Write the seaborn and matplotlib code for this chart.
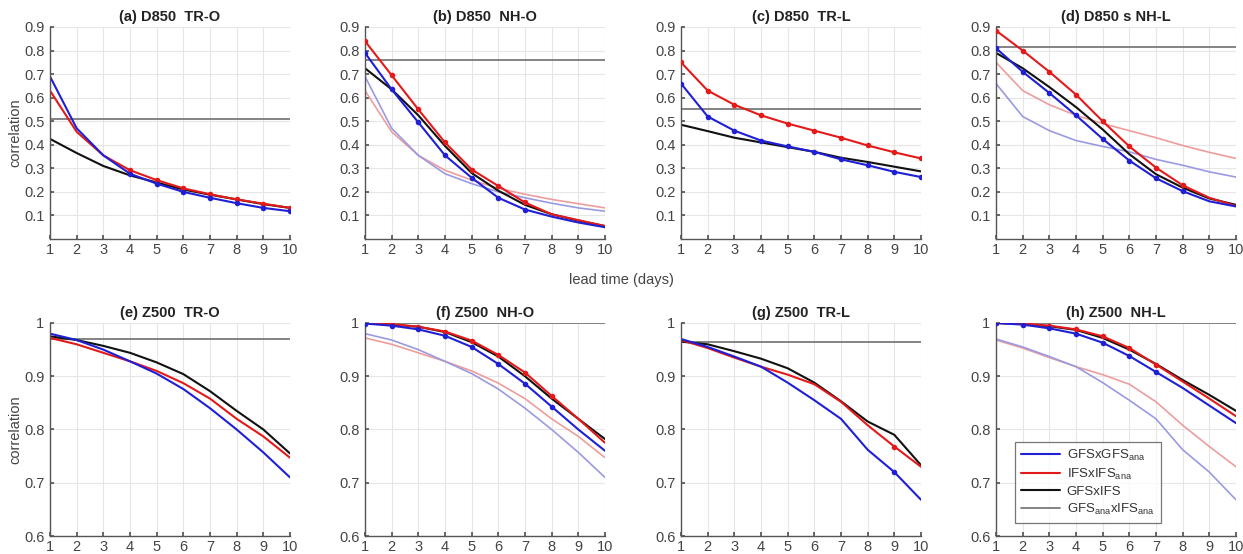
import numpy as np
import pandas as pd
import matplotlib
matplotlib.use("Agg")
import matplotlib.pyplot as plt
import seaborn as sns

sns.set_theme(style="white")
plt.rcParams['font.family'] = ['Liberation Sans', 'DejaVu Sans']

days = [1, 2, 3, 4, 5, 6, 7, 8, 9, 10]

# D850
a_gfs = [0.69, 0.47, 0.355, 0.277, 0.235, 0.20, 0.175, 0.152, 0.132, 0.118]
a_ifs = [0.63, 0.455, 0.355, 0.292, 0.25, 0.215, 0.19, 0.168, 0.15, 0.132]
a_cross = [0.425, 0.365, 0.31, 0.27, 0.24, 0.21, 0.188, 0.168, 0.148, 0.132]
a_ana = 0.51

b_gfs = [0.79, 0.635, 0.495, 0.355, 0.26, 0.175, 0.125, 0.095, 0.07, 0.05]
b_ifs = [0.84, 0.695, 0.55, 0.41, 0.295, 0.225, 0.155, 0.105, 0.08, 0.055]
b_cross = [0.725, 0.635, 0.525, 0.395, 0.28, 0.205, 0.145, 0.105, 0.078, 0.055]
b_ana = 0.76

c_gfs = [0.66, 0.52, 0.46, 0.418, 0.393, 0.37, 0.338, 0.313, 0.285, 0.263]
c_ifs = [0.75, 0.63, 0.57, 0.525, 0.49, 0.46, 0.43, 0.397, 0.368, 0.342]
c_cross = [0.485, 0.458, 0.43, 0.41, 0.39, 0.37, 0.345, 0.327, 0.307, 0.287]
c_ana = 0.55

d_gfs = [0.81, 0.71, 0.62, 0.525, 0.425, 0.333, 0.258, 0.203, 0.16, 0.138]
d_ifs = [0.885, 0.80, 0.71, 0.613, 0.50, 0.393, 0.303, 0.228, 0.175, 0.14]
d_cross = [0.79, 0.725, 0.645, 0.56, 0.465, 0.36, 0.275, 0.218, 0.172, 0.145]
d_ana = 0.815

# Z500
e_gfs = [0.98, 0.968, 0.95, 0.928, 0.905, 0.876, 0.84, 0.80, 0.757, 0.71]
e_ifs = [0.972, 0.96, 0.944, 0.928, 0.91, 0.887, 0.858, 0.82, 0.787, 0.747]
e_cross = [0.975, 0.968, 0.957, 0.944, 0.926, 0.904, 0.872, 0.835, 0.80, 0.755]
e_ana = 0.97

f_gfs = [0.999, 0.995, 0.988, 0.976, 0.955, 0.923, 0.886, 0.843, 0.80, 0.76]
f_ifs = [1.0, 0.998, 0.993, 0.984, 0.967, 0.94, 0.907, 0.863, 0.82, 0.775]
f_cross = [1.0, 0.997, 0.993, 0.983, 0.964, 0.937, 0.90, 0.858, 0.82, 0.782]
f_ana = 1.0

g_gfs = [0.97, 0.955, 0.937, 0.918, 0.888, 0.855, 0.82, 0.762, 0.72, 0.668]
g_ifs = [0.968, 0.953, 0.935, 0.918, 0.903, 0.885, 0.852, 0.808, 0.768, 0.73]
g_cross = [0.965, 0.96, 0.947, 0.933, 0.915, 0.888, 0.853, 0.815, 0.79, 0.733]
g_ana = 0.965

h_gfs = [1.0, 0.997, 0.99, 0.98, 0.963, 0.938, 0.908, 0.878, 0.845, 0.812]
h_ifs = [1.0, 0.999, 0.995, 0.988, 0.975, 0.953, 0.922, 0.89, 0.858, 0.825]
h_cross = [1.0, 0.998, 0.994, 0.987, 0.972, 0.95, 0.923, 0.893, 0.865, 0.835]
h_ana = 1.0

# days with markers
a_marks = [4, 5, 6, 7, 8, 9, 10]
b_marks = [1, 2, 3, 4, 5, 6, 7]
c_marks = days
d_marks = [1, 2, 3, 4, 5, 6, 7, 8]
e_marks = []
f_marks = [1, 2, 3, 4, 5, 6, 7, 8]
g_marks = [9]
h_marks = [1, 2, 3, 4, 5, 6, 7]

titles = ["(a) D850  TR-O", "(b) D850  NH-O", "(c) D850  TR-L", "(d) D850 s NH-L",
          "(e) Z500  TR-O", "(f) Z500  NH-O", "(g) Z500  TR-L", "(h) Z500  NH-L"]

panels = [
    (a_gfs, a_ifs, a_cross, a_ana, a_marks, None),
    (b_gfs, b_ifs, b_cross, b_ana, b_marks, (a_gfs, a_ifs)),
    (c_gfs, c_ifs, c_cross, c_ana, c_marks, None),
    (d_gfs, d_ifs, d_cross, d_ana, d_marks, (c_gfs, c_ifs)),
    (e_gfs, e_ifs, e_cross, e_ana, e_marks, None),
    (f_gfs, f_ifs, f_cross, f_ana, f_marks, (e_gfs, e_ifs)),
    (g_gfs, g_ifs, g_cross, g_ana, g_marks, None),
    (h_gfs, h_ifs, h_cross, h_ana, h_marks, (g_gfs, g_ifs)),
]

BLUE = "#1f1fd6"
RED = "#e41a1a"
BLACK = "#111111"
GRAY = "#7a7a7a"
LBLUE = "#9a9ae3"
LRED = "#ee9d9d"
TICKC = "#444444"

W, H = 1243, 554
fig = plt.figure(figsize=(W / 100, H / 100), dpi=100)
lefts = [50, 365, 681, 996]
axw = 240
rows = [(27, 239), (323, 536)]

for i, (gfs, ifs, cross, ana, marks, light) in enumerate(panels):
    r, c = divmod(i, 4)
    top, bot = rows[r]
    ax = fig.add_axes([lefts[c] / W, 1 - bot / H, axw / W, (bot - top) / H])
    if light is not None:
        sns.lineplot(x=days, y=light[1], ax=ax, color=LRED, lw=1.2)
        sns.lineplot(x=days, y=light[0], ax=ax, color=LBLUE, lw=1.2)
    sns.lineplot(x=days, y=[ana] * len(days), ax=ax, color=GRAY, lw=1.3,
                 label=r"GFS$\mathregular{_{ana}}$xIFS$\mathregular{_{ana}}$")
    sns.lineplot(x=days, y=cross, ax=ax, color=BLACK, lw=1.5, label="GFSxIFS")
    sns.lineplot(x=days, y=ifs, ax=ax, color=RED, lw=1.5,
                 label=r"IFSxIFS$\mathregular{_{ana}}$")
    sns.lineplot(x=days, y=gfs, ax=ax, color=BLUE, lw=1.5,
                 label=r"GFSxGFS$\mathregular{_{ana}}$")
    if marks:
        idx = [days.index(m) for m in marks]
        sns.scatterplot(x=[days[j] for j in idx], y=[ifs[j] for j in idx], ax=ax,
                        color=RED, s=16, edgecolor=RED, linewidth=0, zorder=5)
        sns.scatterplot(x=[days[j] for j in idx], y=[gfs[j] for j in idx], ax=ax,
                        color=BLUE, s=16, edgecolor=BLUE, linewidth=0, zorder=5)
    ax.set_xlim(1, 10)
    ax.set_xticks(days)
    if r == 0:
        ax.set_ylim(0, 0.9)
        ax.set_yticks([0.1, 0.2, 0.3, 0.4, 0.5, 0.6, 0.7, 0.8, 0.9])
        ax.set_yticklabels(["0.1", "0.2", "0.3", "0.4", "0.5", "0.6", "0.7", "0.8", "0.9"])
    else:
        ax.set_ylim(0.6, 1.0)
        ax.set_yticks([0.6, 0.7, 0.8, 0.9, 1.0])
        ax.set_yticklabels(["0.6", "0.7", "0.8", "0.9", "1"])
    ax.grid(True, color="#e6e6e6", lw=0.8)
    ax.set_axisbelow(True)
    for s in ["top", "right"]:
        ax.spines[s].set_visible(False)
    for s in ["left", "bottom"]:
        ax.spines[s].set_color("#555555")
        ax.spines[s].set_linewidth(1.0)
    ax.tick_params(axis="both", direction="in", length=3, color="#555555",
                   labelsize=10.5, labelcolor=TICKC, pad=4, left=True, bottom=True)
    ax.tick_params(axis="x", pad=3)
    ax.set_title(titles[i], fontsize=10.5, fontweight="bold", color="#222222", pad=4)
    ax.set_xlabel("")
    if c == 0:
        ax.set_ylabel("correlation", fontsize=10.5, color=TICKC)
        ax.yaxis.set_label_coords(-28 / axw, 0.5)
    else:
        ax.set_ylabel("")
    leg = ax.get_legend()
    if leg is not None:
        leg.remove()
    if i == 7:
        handles, labels = ax.get_legend_handles_labels()
        order = [3, 2, 1, 0]
        lg = ax.legend([handles[k] for k in order], [labels[k] for k in order],
                       loc="lower left", bbox_to_anchor=(0.05, 0.03), fontsize=9.5,
                       frameon=True, fancybox=False, edgecolor="#555555",
                       handlelength=3.0, borderpad=0.45, labelspacing=0.3,
                       handletextpad=0.5)
        lg.get_frame().set_linewidth(0.9)
        for t in lg.get_texts():
            t.set_color("#333333")

fig.text(621 / W, 1 - 280 / H, "lead time (days)", ha="center", va="center",
         fontsize=10.5, color=TICKC)

fig.savefig("out.png", dpi=100)
